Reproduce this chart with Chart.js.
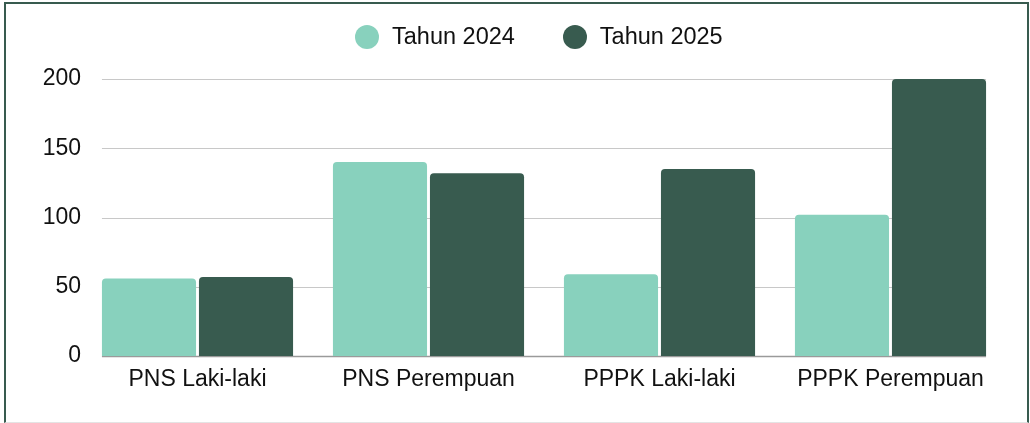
<!DOCTYPE html>
<html>
<head>
<meta charset="utf-8">
<script src="https://cdn.jsdelivr.net/npm/chart.js@4.4.1/dist/chart.umd.min.js"></script>
<style>
  html, body { margin: 0; padding: 0; background: #fff; }
  body { width: 1030px; height: 423px; position: relative; overflow: hidden; font-family: "Liberation Sans", Arial, sans-serif; }
  #frame { position: absolute; left: 4px; top: 2px; width: 1021px; height: 418px; border: 2px solid #385b4f; border-bottom: 1px solid #e4e4e4; }
  #wrap { position: absolute; left: 0; top: 0; width: 1030px; height: 423px; }
  #legend { position: absolute; left: 355px; top: 23px; display: flex; align-items: center; font-size: 23.5px; color: #111; }
  .item { display: flex; align-items: center; margin-right: 48px; }
  .dot { width: 24px; height: 24px; border-radius: 50%; margin-right: 13px; }
</style>
</head>
<body>
<div id="frame"></div>
<div id="wrap"><canvas id="bar-chart" width="1030" height="423"></canvas></div>
<div id="legend"></div>
<script>
var categories = ['PNS Laki-laki', 'PNS Perempuan', 'PPPK Laki-laki', 'PPPK Perempuan'];
var seriesNames = ['Tahun 2024', 'Tahun 2025'];
var values2024 = [56, 140, 59, 102];
var values2025 = [57, 132, 135, 200];
var yTicks = [0, 50, 100, 150, 200];
var colors = ['#88d1bd', '#385b4f'];

// gridlines only span from first bar to last bar, like the original
var gridPlugin = {
    id: 'shortGrid',
    beforeDatasetsDraw: function(chart) {
        var m0 = chart.getDatasetMeta(0).data[0];
        var m1 = chart.getDatasetMeta(1).data[categories.length - 1];
        var left = m0.x - m0.width / 2;
        var right = m1.x + m1.width / 2;
        var y = chart.scales.y;
        var ctx = chart.ctx;
        ctx.save();
        yTicks.forEach(function(v) {
            var py = Math.round(y.getPixelForValue(v)) + 0.5;
            ctx.strokeStyle = v === 0 ? '#9a9a9a' : '#c8c8c8';
            ctx.lineWidth = v === 0 ? 1.5 : 1.2;
            ctx.beginPath();
            ctx.moveTo(left, py);
            ctx.lineTo(right, py);
            ctx.stroke();
        });
        ctx.restore();
    }
};

function initLegend() {
    var el = document.getElementById('legend');
    seriesNames.forEach(function(name, i) {
        var item = document.createElement('div');
        item.className = 'item';
        var dot = document.createElement('span');
        dot.className = 'dot';
        dot.style.background = colors[i];
        var txt = document.createElement('span');
        txt.textContent = name;
        item.appendChild(dot);
        item.appendChild(txt);
        el.appendChild(item);
    });
}

function initChart() {
    var canvas = document.getElementById('bar-chart');
    var font = { family: '"Liberation Sans", Arial, sans-serif', size: 23 };

    new Chart(canvas, {
        type: 'bar',
        data: {
            labels: categories,
            datasets: [
                { label: seriesNames[0], data: values2024, backgroundColor: colors[0] },
                { label: seriesNames[1], data: values2025, backgroundColor: colors[1] }
            ]
        },
        options: {
            responsive: false,
            animation: false,
            categoryPercentage: 0.84,
            barPercentage: 0.97,
            borderRadius: { topLeft: 4, topRight: 4 },
            layout: { padding: { left: 0, right: 24, top: 79, bottom: 30 } },
            plugins: {
                legend: { display: false },
                tooltip: { enabled: false }
            },
            scales: {
                x: {
                    grid: { display: false, drawTicks: false },
                    border: { display: false },
                    ticks: { color: '#111', font: font, padding: 10, maxRotation: 0 },
                    afterFit: function(scale) { scale.height = 37; }
                },
                y: {
                    min: 0,
                    max: 200,
                    grid: { display: false, drawTicks: false },
                    border: { display: false },
                    ticks: { color: '#111', font: font, padding: 1, stepSize: 50 },
                    afterFit: function(scale) { scale.width = 82; }
                }
            }
        },
        plugins: [gridPlugin]
    });
}

document.addEventListener('DOMContentLoaded', function() {
    initLegend();
    initChart();
});
</script>
</body>
</html>
